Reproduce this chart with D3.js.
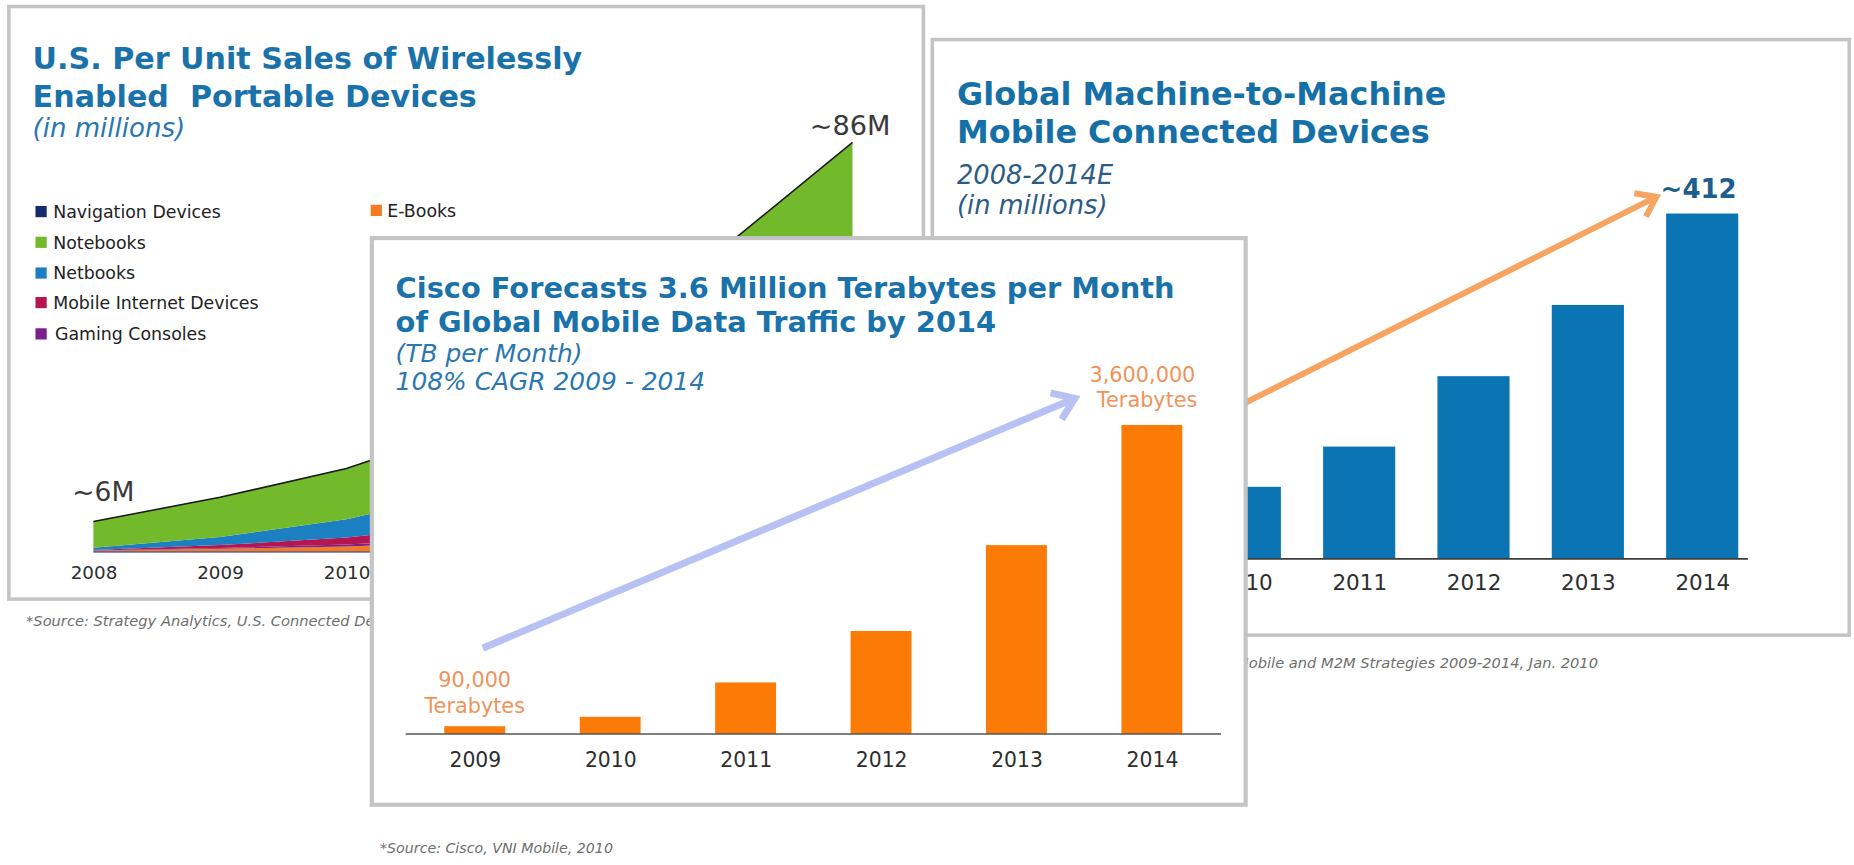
<!DOCTYPE html>
<html>
<head>
<meta charset="utf-8">
<script src="https://cdn.jsdelivr.net/npm/d3@7"></script>
<style>
  html, body { margin: 0; padding: 0; background: #fff; overflow: hidden; }
  svg { display: block; }
</style>
</head>
<body>
<div id="chart"></div>
<script>
// panel 1 - U.S. unit sales, millions
var salesYears = [2008, 2009, 2010, 2011, 2012, 2013, 2014];
var navigation = [0.25, 0.25, 0.25, 0.25, 0.25, 0.25, 0.25];
var eBooks = [0.1, 0.5, 1.0, 2.0, 3.0, 4.0, 5.0];
var gaming = [0.05, 0.2, 0.4, 0.8, 1.2, 1.6, 2.0];
var mobileInternet = [0.1, 0.6, 1.5, 2.9, 4.5, 6.0, 7.5];
var netbooks = [0.5, 1.7, 3.8, 7.0, 10.0, 13.0, 16.0];
var notebooks = [5.5, 8.3, 10.65, 13.55, 25.05, 39.45, 55.25];
var salesLabels = ["Navigation Devices", "Notebooks", "Netbooks", "Mobile Internet Devices", "Gaming Consoles", "E-Books"];

// panel 2 - M2M devices, millions
var m2mYears = [2008, 2009, 2010, 2011, 2012, 2013, 2014];
var m2mDevices = [40, 58, 86, 134, 218, 303, 412];
var m2mArrow = [[2008.2, 63], [2013.6, 432]];

// panel 3 - mobile data traffic, TB per month
var trafficYears = [2009, 2010, 2011, 2012, 2013, 2014];
var trafficTB = [90000, 200000, 600000, 1200000, 2200000, 3600000];
var trafficArrow = [[2009.06, 1000000], [2013.43, 3910000]];

function init(){
    var W = 1568, H = 732;
    var sans = "'DejaVu Sans', Verdana, sans-serif";
    var border = "#c4c4c4";

    var svg = d3.select("#chart").append("svg")
        .attr("width", 1854)
        .attr("height", 865)
        .attr("viewBox", "0 0 " + W + " " + H)
        .attr("preserveAspectRatio", "none");

    function fit(t, w){
        var fs = parseFloat(t.attr("font-size"));
        t.attr("font-size", fs * w / t.node().getComputedTextLength());
        return t;
    }

    function txt(g, x, y, s, size, color, opts){
        opts = opts || {};
        var t = g.append("text")
            .attr("x", x).attr("y", y)
            .attr("font-family", sans)
            .attr("font-size", size)
            .attr("fill", color)
            .attr("font-weight", opts.bold ? "bold" : "normal")
            .attr("font-style", opts.italic ? "italic" : "normal")
            .attr("text-anchor", opts.anchor || "start")
            .text(s);
        if (opts.width) fit(t, opts.width);
        return t;
    }

    function arrow(g, p0, p1, color, width, head){
        var a = Math.atan2(p1[1] - p0[1], p1[0] - p0[0]);
        g.append("line")
            .attr("x1", p0[0]).attr("y1", p0[1])
            .attr("x2", p1[0] - Math.cos(a) * 2).attr("y2", p1[1] - Math.sin(a) * 2)
            .attr("stroke", color).attr("stroke-width", width);
        var arm1 = [p1[0] + head * Math.cos(a + Math.PI - 0.62), p1[1] + head * Math.sin(a + Math.PI - 0.62)];
        var arm2 = [p1[0] + head * Math.cos(a + Math.PI + 0.62), p1[1] + head * Math.sin(a + Math.PI + 0.62)];
        g.append("path")
            .attr("d", "M" + arm1 + "L" + p1 + "L" + arm2)
            .attr("fill", "none")
            .attr("stroke", color).attr("stroke-width", width)
            .attr("stroke-linejoin", "miter").attr("stroke-linecap", "butt");
    }

    function yearAxis(g, scale, ticks, y, pad, size){
        var ax = g.append("g")
            .attr("transform", "translate(0," + y + ")")
            .call(d3.axisBottom(scale).tickValues(ticks).tickSize(0).tickPadding(pad).tickFormat(d3.format("d")));
        ax.select(".domain").remove();
        ax.selectAll("text")
            .attr("font-family", sans)
            .attr("font-size", size)
            .attr("fill", "#2e2e2e");
    }

    // ---------- panel 1 ----------
    var p1 = svg.append("g");
    p1.append("rect").attr("x", 7.5).attr("y", 5.5).attr("width", 773.5).attr("height", 501.5)
        .attr("fill", "#fff").attr("stroke", border).attr("stroke-width", 3);

    txt(p1, 27.6, 58.7, "U.S. Per Unit Sales of Wirelessly", 25, "#1a72aa", {bold: true, width: 465});
    var t1 = p1.select("text");
    txt(p1, 27.6, 90.4, "Enabled\u00a0 Portable Devices", t1.attr("font-size"), "#1a72aa", {bold: true});
    txt(p1, 27.6, 115.6, "(in millions)", 20, "#2a77b2", {italic: true, width: 129});

    var keys = ["navigation", "eBooks", "gaming", "mobileInternet", "netbooks", "notebooks"];
    var colors = {navigation: "#15296e", eBooks: "#f47b20", gaming: "#7b1f8e",
        mobileInternet: "#b5164f", netbooks: "#1c7fc1", notebooks: "#72b92b"};
    var rows = salesYears.map(function(y, i){
        return {year: y, navigation: navigation[i], eBooks: eBooks[i], gaming: gaming[i],
            mobileInternet: mobileInternet[i], netbooks: netbooks[i], notebooks: notebooks[i]};
    });
    var series = d3.stack().keys(keys)(rows);

    var x1 = d3.scaleLinear().domain([2008, 2014]).range([79, 721]);
    var y1 = d3.scaleLinear().domain([0, 86]).range([467.5, 120.5]);

    var area = d3.area()
        .x(function(d){ return x1(d.data.year); })
        .y0(function(d){ return y1(d[0]); })
        .y1(function(d){ return y1(d[1]); });

    p1.selectAll(".layer").data(series).enter().append("path")
        .attr("class", "layer")
        .attr("d", area)
        .attr("fill", function(d){ return colors[d.key]; });

    var top = d3.line()
        .x(function(d){ return x1(d.data.year); })
        .y(function(d){ return y1(d[1]); });
    p1.append("path").datum(series[series.length - 1])
        .attr("d", top).attr("fill", "none").attr("stroke", "#1a1a1a").attr("stroke-width", 1.3);

    yearAxis(p1, x1, salesYears, 467.5, 11.5, 15.5);

    var legendKeys = ["navigation", "notebooks", "netbooks", "mobileInternet", "gaming"];
    var legendY = [179, 205, 231, 256, 282.5];
    legendKeys.forEach(function(k, i){
        p1.append("rect").attr("x", 30).attr("y", legendY[i] - 4.7).attr("width", 9.5).attr("height", 9.5)
            .attr("fill", colors[k]);
        txt(p1, k == "gaming" ? 46.5 : 45, legendY[i] + 5.3, salesLabels[i], 14.7, "#222");
    });
    p1.append("rect").attr("x", 313.5).attr("y", 178 - 4.7).attr("width", 9.5).attr("height", 9.5)
        .attr("fill", colors.eBooks);
    txt(p1, 327.5, 178 + 5.3, salesLabels[5], 14.7, "#222");

    var tot = function(i){ return series[series.length - 1][i][1]; };
    txt(p1, x1(2008) + 8.4, y1(tot(0)) - 17, "~6M", 22.5, "#3a3a3a", {anchor: "middle"});
    txt(p1, x1(2014) - 2, y1(tot(6)) - 6.6, "~86M", 23, "#3a3a3a", {anchor: "middle"});

    txt(p1, 22, 530, "*Source: Strategy Analytics, U.S. Connected Devices", 12.4, "#6e6e6e", {italic: true});

    // ---------- panel 2 ----------
    var p2 = svg.append("g");
    p2.append("rect").attr("x", 788.5).attr("y", 33.5).attr("width", 775.5).attr("height", 504)
        .attr("fill", "#fff").attr("stroke", border).attr("stroke-width", 3);

    var t2 = txt(p2, 809.4, 88.5, "Global Machine-to-Machine", 25, "#1670a8", {bold: true, width: 414});
    txt(p2, 809.4, 120.8, "Mobile Connected Devices", t2.attr("font-size"), "#1670a8", {bold: true});
    var t2b = txt(p2, 809.4, 155.8, "2008-2014E", 20, "#2b5c85", {italic: true, width: 132});
    txt(p2, 809.4, 181.4, "(in millions)", t2b.attr("font-size"), "#2b5c85", {italic: true});

    var x2 = d3.scaleLinear().domain([2010, 2014]).range([1052.8, 1439.6]);
    var y2 = d3.scaleLinear().domain([0, 412]).range([473, 180.7]);
    var bw2 = 61;

    p2.selectAll(".bar").data(m2mDevices).enter().append("rect")
        .attr("class", "bar")
        .attr("x", function(d, i){ return x2(m2mYears[i]) - bw2 / 2; })
        .attr("y", function(d){ return y2(d); })
        .attr("width", bw2)
        .attr("height", function(d){ return y2(0) - y2(d); })
        .attr("fill", "#0b74b3");

    p2.append("line")
        .attr("x1", x2(2007.6)).attr("x2", x2(2014.4))
        .attr("y1", y2(0)).attr("y2", y2(0))
        .attr("stroke", "#3d3d3d").attr("stroke-width", 1.5);

    yearAxis(p2, x2, m2mYears, 473, 13, 18.2);

    arrow(p2, [x2(m2mArrow[0][0]), y2(m2mArrow[0][1])], [x2(m2mArrow[1][0]), y2(m2mArrow[1][1])], "#f6a461", 5, 19);
    txt(p2, x2(2014) - 3, y2(412) - 13, "~412", 22, "#1d5e8f", {bold: true, anchor: "middle"});

    txt(p2, 1351.5, 565, "*Source: Mobile and M2M Strategies 2009-2014, Jan. 2010", 12.4, "#6e6e6e", {italic: true, anchor: "end"});

    // ---------- panel 3 ----------
    var p3 = svg.append("g");
    p3.append("rect").attr("x", 314.5).attr("y", 201.5).attr("width", 739).attr("height", 479.5)
        .attr("fill", "#fff").attr("stroke", border).attr("stroke-width", 3.5);

    var t3 = txt(p3, 334.6, 252, "Cisco Forecasts 3.6 Million Terabytes per Month", 25, "#1a72aa", {bold: true, width: 659});
    txt(p3, 334.6, 281.3, "of Global Mobile Data Traffic by 2014", t3.attr("font-size"), "#1a72aa", {bold: true});
    var t3b = txt(p3, 334.6, 306, "(TB per Month)", 20, "#2a77b2", {italic: true, width: 158});
    txt(p3, 334.6, 330.4, "108% CAGR 2009 - 2014", t3b.attr("font-size"), "#2a77b2", {italic: true});

    var x3 = d3.scaleLinear().domain([2009, 2014]).range([401.5, 974.2]);
    var y3 = d3.scaleLinear().domain([0, 3600000]).range([621.1, 359.6]);
    var bw3 = 51.5;

    arrow(p3, [x3(trafficArrow[0][0]), y3(trafficArrow[0][1])], [x3(trafficArrow[1][0]), y3(trafficArrow[1][1])], "#b7c2f3", 6, 21);

    p3.selectAll(".bar").data(trafficTB).enter().append("rect")
        .attr("class", "bar")
        .attr("x", function(d, i){ return x3(trafficYears[i]) - bw3 / 2; })
        .attr("y", function(d){ return y3(d); })
        .attr("width", bw3)
        .attr("height", function(d){ return y3(0) - y3(d); })
        .attr("fill", "#fb7b06");

    p3.append("line")
        .attr("x1", x3(2008.49)).attr("x2", x3(2014.51))
        .attr("y1", y3(0)).attr("y2", y3(0))
        .attr("stroke", "#555").attr("stroke-width", 1.3);

    yearAxis(p3, x3, trafficYears, 621.1, 16, 17.2);

    var fmt = d3.format(",");
    txt(p3, x3(2009), y3(trafficTB[0]) - 33.3, fmt(trafficTB[0]), 17.6, "#f0935a", {anchor: "middle"});
    txt(p3, x3(2009), y3(trafficTB[0]) - 11.6, "Terabytes", 17.6, "#f0935a", {anchor: "middle"});
    txt(p3, x3(2014) - 8, y3(trafficTB[5]) - 36, fmt(trafficTB[5]), 17.6, "#f0935a", {anchor: "middle"});
    txt(p3, x3(2014) - 4, y3(trafficTB[5]) - 15, "Terabytes", 17.6, "#f0935a", {anchor: "middle"});

    txt(svg, 321.4, 721.5, "*Source: Cisco, VNI Mobile, 2010", 11, "#6e6e6e", {italic: true, width: 197});
}

window.onload = init;
</script>
</body>
</html>
